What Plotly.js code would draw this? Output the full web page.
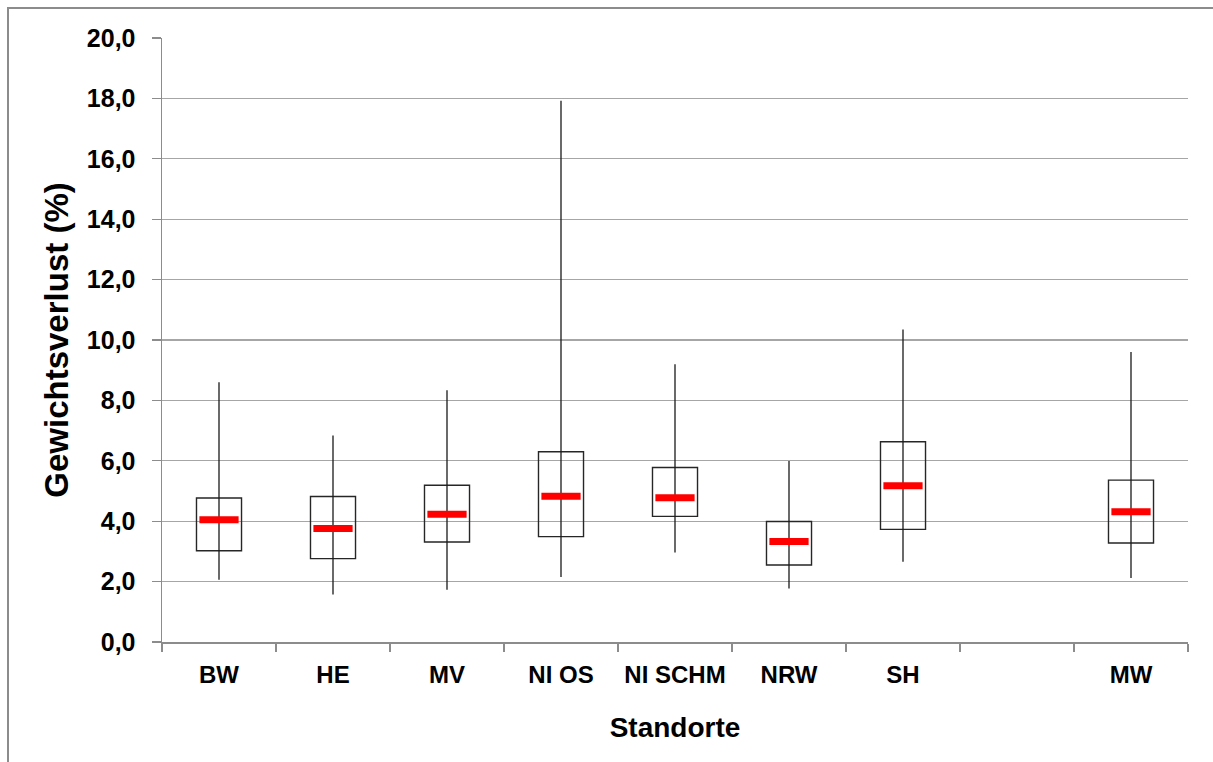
<!DOCTYPE html>
<html>
<head>
<meta charset="utf-8">
<script src="https://cdn.plot.ly/plotly-3.0.1.min.js"></script>
<style>
html,body{margin:0;padding:0;background:#fff;}
#frame{position:absolute;left:7px;top:7px;width:1220px;height:770px;border-left:2px solid #8c8c8c;border-top:2px solid #8c8c8c;}
#chart{position:absolute;left:0;top:0;width:1213px;height:762px;}
</style>
</head>
<body>
<div id="frame"></div>
<div id="chart"></div>
<script>
// Category slots (the 8th slot is intentionally empty)
const axisCategories = ["BW", "HE", "MV", "NI OS", "NI SCHM", "NRW", "SH", " ", "MW"];
// Sites with data
const sites   = ["BW", "HE", "MV", "NI OS", "NI SCHM", "NRW", "SH", "MW"];
const minimum = [2.06, 1.57, 1.73, 2.15, 2.96, 1.77, 2.66, 2.12];
const q1      = [3.02, 2.76, 3.31, 3.49, 4.16, 2.55, 3.73, 3.28];
const median  = [4.05, 3.76, 4.23, 4.83, 4.78, 3.33, 5.17, 4.31];
const q3      = [4.77, 4.82, 5.19, 6.30, 5.78, 3.99, 6.63, 5.36];
const maximum = [8.60, 6.84, 8.34, 17.92, 9.20, 5.99, 10.35, 9.60];

const FONT = "Liberation Sans, Arial, sans-serif";

const boxes = {
  type: "bar",
  x: sites,
  base: q1,
  y: q3.map((v, i) => v - q1[i]),
  width: 0.395,
  marker: {color: "rgba(0,0,0,0)", line: {color: "#262626", width: 1.4}},
  hoverinfo: "skip",
  showlegend: false
};

const whiskers = {
  type: "scatter",
  mode: "markers",
  x: sites,
  y: minimum,
  marker: {size: 1, color: "rgba(0,0,0,0)"},
  error_y: {
    type: "data",
    symmetric: false,
    array: maximum.map((v, i) => v - minimum[i]),
    arrayminus: minimum.map(() => 0),
    width: 0,
    thickness: 1.3,
    color: "#1a1a1a"
  },
  hoverinfo: "skip",
  showlegend: false
};

const medians = {
  type: "scatter",
  mode: "markers",
  x: sites,
  y: median,
  marker: {symbol: "line-ew-open", size: 28, color: "#ff0000", line: {color: "#ff0000", width: 7}},
  showlegend: false
};

const layout = {
  width: 1213,
  height: 762,
  margin: {l: 162, r: 25, t: 38, b: 120},
  paper_bgcolor: "rgba(0,0,0,0)",
  plot_bgcolor: "rgba(0,0,0,0)",
  font: {family: FONT, color: "#000"},
  separators: ",.",
  bargap: 0,
  xaxis: {
    type: "category",
    categoryorder: "array",
    categoryarray: axisCategories,
    range: [-0.5, 8.5],
    showgrid: false,
    showline: true,
    linecolor: "#8c8c8c",
    linewidth: 1.5,
    ticks: "outside",
    tickson: "boundaries",
    ticklen: 8,
    tickcolor: "#8c8c8c",
    tickwidth: 1.2,
    tickangle: 0,
    ticklabelstandoff: 11,
    tickfont: {family: FONT, size: 24, weight: "bold", color: "#000"},
    title: {text: "Standorte", font: {family: FONT, size: 28, weight: "bold", color: "#000"}, standoff: 30},
    zeroline: false,
    fixedrange: true
  },
  yaxis: {
    range: [0, 20],
    dtick: 2,
    tick0: 0,
    tickformat: ".1f",
    showgrid: true,
    gridcolor: "#a6a6a6",
    gridwidth: 1.3,
    showline: true,
    linecolor: "#8c8c8c",
    linewidth: 1.5,
    ticks: "outside",
    ticklen: 9,
    tickcolor: "#8c8c8c",
    tickwidth: 1.2,
    ticklabelstandoff: 11,
    tickfont: {family: FONT, size: 25, weight: "bold", color: "#000"},
    title: {text: "Gewichtsverlust (%)", font: {family: FONT, size: 33, weight: "bold", color: "#000"}, standoff: 8},
    zeroline: false,
    fixedrange: true
  }
};

Plotly.newPlot("chart", [boxes, whiskers, medians], layout, {displayModeBar: false, staticPlot: true});
</script>
</body>
</html>
